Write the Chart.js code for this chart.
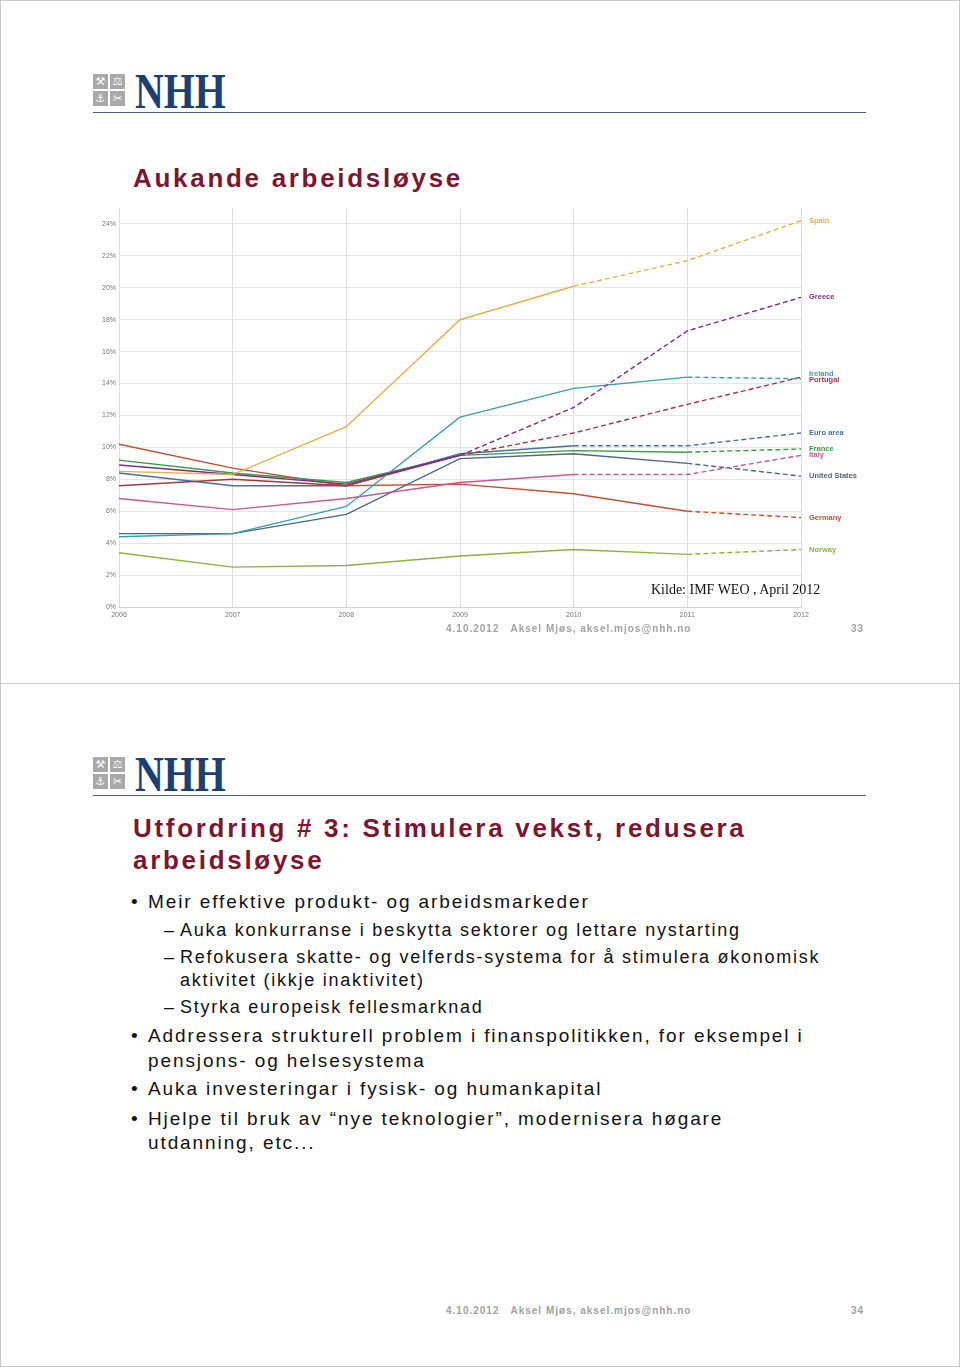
<!DOCTYPE html>
<html>
<head>
<meta charset="utf-8">
<script src="https://cdn.jsdelivr.net/npm/chart.js@4.4.1/dist/chart.umd.min.js"></script>
<style>
  body { margin: 0; background: #fff; font-family: "Liberation Sans", Arial, sans-serif; }
  #wrap { position: relative; width: 960px; height: 1367px; overflow: hidden; }
  .page { position: absolute; left: 0; width: 958px; height: 682px; border: 1px solid #c9c9c9; box-sizing: content-box; }
  .abs { position: absolute; white-space: nowrap; }
  .icons { position: absolute; width: 32px; height: 32px; }
  .icons div { position: absolute; width: 15px; height: 15px; background: #a9a9a9; color: #fff;
    font: 11px/15px "DejaVu Sans", sans-serif; text-align: center; }
  .nhh { position: absolute; font: bold 51px/51px "Liberation Serif", "Times New Roman", serif; color: #1c3f74;
    transform: scaleX(0.78); transform-origin: left top; }
  .rule { position: absolute; left: 93px; width: 773px; height: 1px; background: #4a5f80; }
  .title { font-weight: bold; font-size: 26px; letter-spacing: 2.7px; color: #7b1730; line-height: 32px; }
  .foot { font-weight: bold; font-size: 10px; letter-spacing: 1.0px; color: #a2a2a2; line-height: 14px; }
  .txt { font-size: 19px; letter-spacing: 1.9px; color: #111; line-height: 24px; }
  .sub { font-size: 18px; letter-spacing: 1.75px; color: #111; line-height: 24px; }
</style>
</head>
<body>
<div id="wrap">
  <div class="page" style="top:0"></div>
  <div class="page" style="top:683px"></div>

  <!-- slide 33 -->
  <div class="icons" style="left:93px;top:74px">
    <div style="left:0;top:0">⚒</div><div style="left:17px;top:0">⚖</div>
    <div style="left:0;top:17px">⚓</div><div style="left:17px;top:17px">✂</div>
  </div>
  <div class="nhh" style="left:135px;top:66px">NHH</div>
  <div class="rule" style="top:112px"></div>
  <div class="abs title" style="left:133px;top:162px">Aukande arbeidsløyse</div>

  <canvas id="myChart" width="770" height="430" style="position:absolute;left:90px;top:200px"></canvas>
  <div class="abs" style="left:651px;top:581px;font:14px/18px 'Liberation Serif','Times New Roman',serif;color:#111">Kilde: IMF WEO , April 2012</div>

  <div class="abs foot" style="left:446px;top:622px">4.10.2012&nbsp;&nbsp; Aksel Mjøs, aksel.mjos@nhh.no</div>
  <div class="abs foot" style="left:851px;top:622px">33</div>

  <!-- slide 34 -->
  <div class="icons" style="left:93px;top:757px">
    <div style="left:0;top:0">⚒</div><div style="left:17px;top:0">⚖</div>
    <div style="left:0;top:17px">⚓</div><div style="left:17px;top:17px">✂</div>
  </div>
  <div class="nhh" style="left:135px;top:749px">NHH</div>
  <div class="rule" style="top:795px"></div>
  <div class="abs title" style="left:133px;top:812px">Utfordring # 3: Stimulera vekst, redusera</div>
  <div class="abs title" style="left:133px;top:844px">arbeidsløyse</div>

  <div class="abs txt" style="left:131px;top:890px">•</div>
  <div class="abs txt" style="left:148px;top:890px">Meir effektive produkt- og arbeidsmarkeder</div>
  <div class="abs sub" style="left:164px;top:918px">–</div>
  <div class="abs sub" style="left:180px;top:918px">Auka konkurranse i beskytta sektorer og lettare nystarting</div>
  <div class="abs sub" style="left:164px;top:945px">–</div>
  <div class="abs sub" style="left:180px;top:945px">Refokusera skatte- og velferds-systema for å stimulera økonomisk</div>
  <div class="abs sub" style="left:180px;top:968px">aktivitet (ikkje inaktivitet)</div>
  <div class="abs sub" style="left:164px;top:995px">–</div>
  <div class="abs sub" style="left:180px;top:995px">Styrka europeisk fellesmarknad</div>
  <div class="abs txt" style="left:131px;top:1024px">•</div>
  <div class="abs txt" style="left:148px;top:1024px">Addressera strukturell problem i finanspolitikken, for eksempel i</div>
  <div class="abs txt" style="left:148px;top:1049px">pensjons- og helsesystema</div>
  <div class="abs txt" style="left:131px;top:1077px">•</div>
  <div class="abs txt" style="left:148px;top:1077px">Auka investeringar i fysisk- og humankapital</div>
  <div class="abs txt" style="left:131px;top:1107px">•</div>
  <div class="abs txt" style="left:148px;top:1107px">Hjelpe til bruk av “nye teknologier”, modernisera høgare</div>
  <div class="abs txt" style="left:148px;top:1131px">utdanning, etc...</div>

  <div class="abs foot" style="left:446px;top:1304px">4.10.2012&nbsp;&nbsp; Aksel Mjøs, aksel.mjos@nhh.no</div>
  <div class="abs foot" style="left:851px;top:1304px">34</div>
</div>

<script>
// arbeidsløyse i prosent, IMF WEO april 2012
const years = ['2006', '2007', '2008', '2009', '2010', '2011', '2012'];
const yTicks = [0, 2, 4, 6, 8, 10, 12, 14, 16, 18, 20, 22, 24];

const spain        = [8.5, 8.3, 11.3, 18.0, 20.1, 21.7, 24.2];
const greece       = [8.9, 8.3, 7.7, 9.5, 12.5, 17.3, 19.4];
const ireland      = [4.4, 4.6, 6.3, 11.9, 13.7, 14.4, 14.3];
const portugal     = [7.6, 8.0, 7.6, 9.5, 10.9, 12.7, 14.4];
const euroArea     = [8.4, 7.6, 7.6, 9.6, 10.1, 10.1, 10.9];
const france       = [9.2, 8.4, 7.8, 9.5, 9.8, 9.7, 9.9];
const italy        = [6.8, 6.1, 6.8, 7.8, 8.3, 8.3, 9.5];
const unitedStates = [4.6, 4.6, 5.8, 9.3, 9.6, 9.0, 8.2];
const germany      = [10.2, 8.7, 7.6, 7.7, 7.1, 6.0, 5.6];
const norway       = [3.4, 2.5, 2.6, 3.2, 3.6, 3.3, 3.6];

// index where the dashed (projected) part starts
const dashFrom = {
    Spain: 4, Greece: 3, Ireland: 5, Portugal: 3, 'Euro area': 4,
    France: 5, Italy: 4, 'United States': 5, Germany: 5, Norway: 5
};

function serie(label, data, color, shift) {
    return {
        label: label,
        data: data,
        borderColor: color,
        backgroundColor: color,
        borderWidth: 1.4,
        pointRadius: 0,
        tension: 0,
        labelShift: shift || 0,
        segment: {
            borderDash: ctx => ctx.p0DataIndex >= dashFrom[label] ? [5, 3] : undefined
        }
    };
}

const endLabels = {
    id: 'endLabels',
    afterDatasetsDraw(chart) {
        const ctx = chart.ctx;
        ctx.save();
        ctx.font = 'bold 7.5px "Liberation Sans", Arial, sans-serif';
        ctx.textBaseline = 'middle';
        chart.data.datasets.forEach((ds, i) => {
            const meta = chart.getDatasetMeta(i);
            const pt = meta.data[meta.data.length - 1];
            ctx.fillStyle = ds.borderColor;
            ctx.fillText(ds.label, chart.chartArea.right + 8, pt.y + ds.labelShift);
        });
        ctx.restore();
    }
};

const data = {
    labels: years,
    datasets: [
        serie('Spain', spain, '#e2b14c'),
        serie('Greece', greece, '#7e2d7f'),
        serie('Ireland', ireland, '#3a9db6', -5),
        serie('Portugal', portugal, '#a3373f', 3),
        serie('Euro area', euroArea, '#4b6ea6'),
        serie('France', france, '#3b9a45'),
        serie('Italy', italy, '#c65a8c'),
        serie('United States', unitedStates, '#4e6584'),
        serie('Germany', germany, '#c2502f'),
        serie('Norway', norway, '#8db33b')
    ]
};

const config = {
    type: 'line',
    data: data,
    options: {
        responsive: false,
        animation: false,
        layout: { padding: { top: 8, right: 59, left: 0, bottom: 0 } },
        plugins: { legend: { display: false }, tooltip: { enabled: false } },
        scales: {
            x: {
                grid: { color: '#dedede', drawTicks: false },
                border: { color: '#d6d6d6' },
                ticks: { color: '#777', font: { size: 7, family: 'Liberation Sans' }, padding: 4, maxRotation: 0 },
                afterFit: s => { s.height = 23; }
            },
            y: {
                min: 0,
                max: 25,
                grid: { color: '#e6e6e6', drawTicks: false },
                border: { display: false },
                ticks: {
                    color: '#777',
                    font: { size: 7, family: 'Liberation Sans' },
                    padding: 3,
                    callback: v => v + '%'
                },
                afterBuildTicks: s => { s.ticks = yTicks.map(v => ({ value: v })); },
                afterFit: s => { s.width = 29; }
            }
        }
    },
    plugins: [endLabels]
};

let myChart = new Chart(document.getElementById('myChart'), config);
</script>
</body>
</html>
